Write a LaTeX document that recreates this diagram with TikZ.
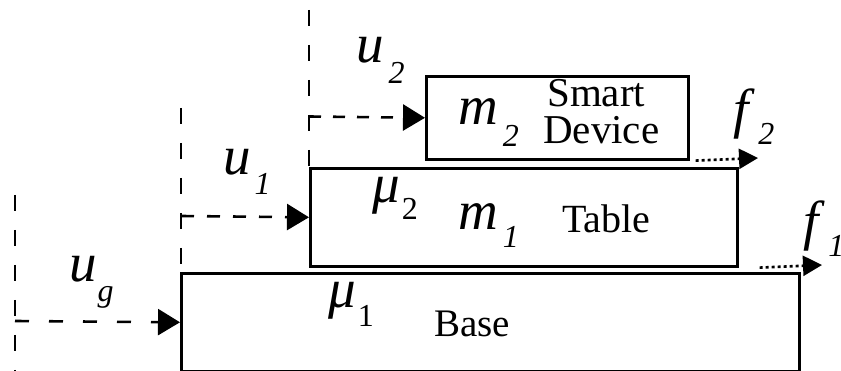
\documentclass[tikz,border=0pt]{standalone}
\usepackage{fontspec}
\setmainfont{Liberation Serif}[ItalicFont={Liberation Serif Italic}]
\usetikzlibrary{arrows.meta}
\newcommand\symb[4]{#1\hspace{#2pt}\raisebox{-#3pt}{\fontsize{32}{32}\selectfont #4}}
\begin{document}
\begin{tikzpicture}[x=1pt,y=-1pt,
  blk/.style={draw, line width=2.6pt, inner sep=0pt, anchor=north west},
  mlab/.style={anchor=base west, inner sep=0pt, font=\fontsize{55}{55}\selectfont\itshape},
  tlab/.style={anchor=base west, inner sep=0pt, font=\fontsize{40}{40}\selectfont},
  vdash/.style={line width=2.6pt, dash pattern=on 16pt off 19pt},
  udash/.style={line width=2.6pt, dash pattern=on 14pt off 20pt, -{Triangle[length=22pt,width=26pt]}},
  fdot/.style={line width=2.6pt, dash pattern=on 3pt off 3pt, -{Triangle[length=19pt,width=20pt]}}]
  \useasboundingbox (0,0) rectangle (841,371);
  % blocks
  \node[blk, minimum width=618pt, minimum height=98pt] (base) at (180,272) {};
  \node[blk, minimum width=427pt, minimum height=98pt] (table) at (309,167) {};
  \node[blk, minimum width=262pt, minimum height=83pt] (dev) at (425,75) {};
  % texts
  \node[tlab, font=\fontsize{39}{39}\selectfont] (basetxt) at (434,337) {Base};
  \node[tlab] (tabletxt) at (562,233) {Table};
  \node[tlab, font=\fontsize{41}{41}\selectfont] (smart) at (547,107) {Smart};
  \node[tlab, font=\fontsize{41}{41}\selectfont] (device) at (543,144) {Device};
  \node[mlab] (ug) at (69,282) {\symb{u}{1}{20}{g}};
  \node[mlab] (u1) at (223,175) {\symb{u}{4}{20}{1}};
  \node[mlab] (u2) at (356,63) {\symb{u}{5}{21}{2}};
  \node[mlab] (mu2) at (372,203) {\symb{μ}{2}{17}{\upshape 2}};
  \node[mlab] (mu1) at (328,308) {\symb{μ}{2}{19}{\upshape 1}};
  \node[mlab] (m1) at (458,230) {\symb{m}{5}{18}{1}};
  \node[mlab] (m2) at (458,125) {\symb{m}{5}{22}{2}};
  \node[mlab] (f2) at (733,128) {\symb{f}{10}{17}{2}};
  \node[mlab] (f1) at (803,240) {\symb{f}{10}{17}{1}};
  % reference lines
  \coordinate (v0t) at (15,195); \coordinate (v0b) at (15,371);
  \coordinate (v1t) at (181,108); \coordinate (v1b) at (181,268);
  \coordinate (v2t) at (309,10); \coordinate (v2b) at (309,166);
  \draw[vdash] (v0t) -- (v0b);
  \draw[vdash] (v1t) -- (v1b);
  \draw[vdash] (v2t) -- (v2b);
  % inputs
  \coordinate (ugs) at (15,321);
  \coordinate (u1s) at (181,216);
  \coordinate (u2s) at (309,116.5);
  \draw[udash] (ugs) -- (base.west);
  \draw[udash, dash pattern=on 13pt off 13pt] (u1s) -- (table.west);
  \draw[udash, dash pattern=on 12pt off 12pt] (u2s) -- (dev.west);
  % forces
  \coordinate (f2e) at (758,158);
  \coordinate (f1e) at (822,265);
  \draw[fdot] ([xshift=6pt]dev.south east) -- (f2e);
  \draw[fdot] ([xshift=21pt]table.south east) -- (f1e);
\end{tikzpicture}
\end{document}
